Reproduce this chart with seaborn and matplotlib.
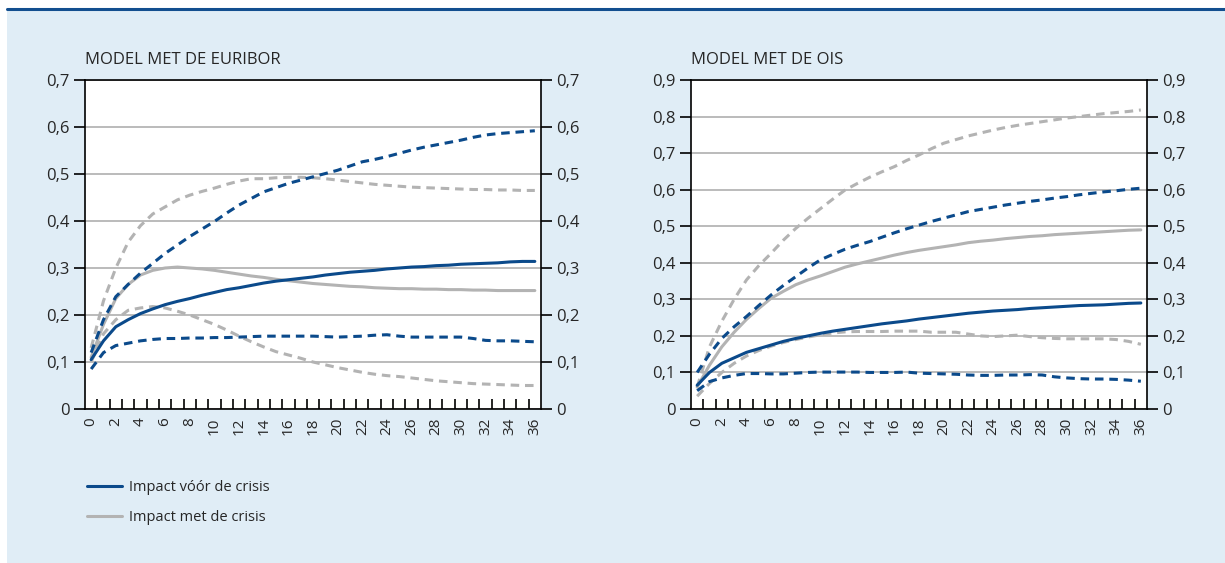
import numpy as np
import pandas as pd
import matplotlib
matplotlib.use("Agg")
import matplotlib.pyplot as plt
import seaborn as sns
from matplotlib.lines import Line2D
from matplotlib.ticker import FuncFormatter, MultipleLocator, FixedLocator

# months after the shock
months = list(range(37))

# Model met de Euribor
eur_before = [0.105, 0.145, 0.175, 0.190, 0.203, 0.213, 0.222, 0.229, 0.235, 0.242,
              0.248, 0.254, 0.258, 0.263, 0.268, 0.272, 0.275, 0.278, 0.281, 0.285,
              0.288, 0.291, 0.293, 0.295, 0.298, 0.300, 0.302, 0.303, 0.305, 0.306,
              0.308, 0.309, 0.310, 0.311, 0.313, 0.314, 0.314]
eur_before_hi = [0.120, 0.190, 0.239, 0.265, 0.289, 0.310, 0.331, 0.349, 0.367, 0.383,
                 0.399, 0.417, 0.434, 0.448, 0.462, 0.471, 0.480, 0.487, 0.494, 0.501,
                 0.508, 0.517, 0.526, 0.531, 0.537, 0.544, 0.551, 0.557, 0.562, 0.567,
                 0.572, 0.578, 0.583, 0.586, 0.588, 0.590, 0.592]
eur_before_lo = [0.085, 0.120, 0.135, 0.140, 0.145, 0.148, 0.150, 0.150, 0.151, 0.151,
                 0.152, 0.152, 0.153, 0.154, 0.155, 0.155, 0.155, 0.155, 0.155, 0.154,
                 0.153, 0.154, 0.155, 0.157, 0.158, 0.155, 0.153, 0.153, 0.153, 0.153,
                 0.153, 0.150, 0.146, 0.145, 0.145, 0.144, 0.143]
eur_crisis = [0.110, 0.180, 0.235, 0.265, 0.285, 0.295, 0.300, 0.302, 0.300, 0.298,
              0.295, 0.291, 0.287, 0.283, 0.280, 0.276, 0.273, 0.270, 0.267, 0.265,
              0.263, 0.261, 0.260, 0.258, 0.257, 0.256, 0.256, 0.255, 0.255, 0.254,
              0.254, 0.253, 0.253, 0.252, 0.252, 0.252, 0.252]
eur_crisis_hi = [0.130, 0.230, 0.300, 0.355, 0.390, 0.415, 0.430, 0.445, 0.455, 0.463,
                 0.470, 0.478, 0.485, 0.490, 0.490, 0.492, 0.493, 0.493, 0.492, 0.490,
                 0.487, 0.484, 0.481, 0.478, 0.476, 0.474, 0.472, 0.471, 0.470, 0.469,
                 0.468, 0.467, 0.467, 0.466, 0.466, 0.465, 0.465]
eur_crisis_lo = [0.100, 0.160, 0.190, 0.210, 0.215, 0.218, 0.215, 0.208, 0.200, 0.190,
                 0.180, 0.168, 0.155, 0.143, 0.132, 0.122, 0.115, 0.108, 0.100, 0.094,
                 0.088, 0.083, 0.078, 0.074, 0.071, 0.069, 0.066, 0.063, 0.060, 0.058,
                 0.056, 0.054, 0.053, 0.052, 0.051, 0.050, 0.050]

# Model met de OIS
ois_before = [0.065, 0.100, 0.125, 0.140, 0.155, 0.165, 0.175, 0.185, 0.193, 0.200,
              0.207, 0.213, 0.218, 0.223, 0.228, 0.233, 0.237, 0.241, 0.246, 0.250,
              0.254, 0.258, 0.262, 0.265, 0.268, 0.270, 0.272, 0.275, 0.277, 0.279,
              0.281, 0.283, 0.284, 0.285, 0.287, 0.289, 0.290]
ois_before_hi = [0.100, 0.150, 0.193, 0.225, 0.253, 0.283, 0.312, 0.338, 0.362, 0.386,
                 0.408, 0.423, 0.437, 0.448, 0.458, 0.470, 0.482, 0.493, 0.503, 0.513,
                 0.522, 0.531, 0.540, 0.546, 0.552, 0.558, 0.563, 0.568, 0.572, 0.577,
                 0.581, 0.586, 0.590, 0.594, 0.597, 0.601, 0.604]
ois_before_lo = [0.050, 0.075, 0.085, 0.092, 0.097, 0.097, 0.096, 0.096, 0.098, 0.100,
                 0.101, 0.101, 0.101, 0.101, 0.100, 0.100, 0.100, 0.101, 0.098, 0.097,
                 0.096, 0.095, 0.093, 0.092, 0.092, 0.093, 0.093, 0.094, 0.093, 0.088,
                 0.085, 0.083, 0.082, 0.082, 0.081, 0.079, 0.076]
ois_crisis = [0.060, 0.120, 0.170, 0.210, 0.245, 0.275, 0.303, 0.322, 0.340, 0.353,
              0.364, 0.376, 0.388, 0.397, 0.405, 0.413, 0.421, 0.428, 0.434, 0.439,
              0.444, 0.449, 0.455, 0.459, 0.462, 0.466, 0.469, 0.472, 0.474, 0.477,
              0.479, 0.481, 0.483, 0.485, 0.487, 0.489, 0.490]
ois_crisis_hi = [0.060, 0.170, 0.240, 0.300, 0.353, 0.392, 0.426, 0.462, 0.494, 0.522,
                 0.548, 0.574, 0.599, 0.617, 0.634, 0.649, 0.663, 0.680, 0.695, 0.712,
                 0.727, 0.737, 0.747, 0.755, 0.763, 0.770, 0.776, 0.781, 0.786, 0.791,
                 0.796, 0.800, 0.804, 0.808, 0.811, 0.814, 0.818]
ois_crisis_lo = [0.035, 0.070, 0.100, 0.125, 0.145, 0.160, 0.172, 0.182, 0.190, 0.197,
                 0.203, 0.208, 0.211, 0.212, 0.212, 0.212, 0.213, 0.213, 0.213, 0.210,
                 0.210, 0.210, 0.205, 0.200, 0.198, 0.200, 0.202, 0.198, 0.195, 0.193,
                 0.192, 0.192, 0.192, 0.192, 0.190, 0.185, 0.177]

titles = ["MODEL MET DE EURIBOR", "MODEL MET DE OIS"]
legend_labels = ["Impact vóór de crisis", "Impact met de crisis"]

BLUE = "#0b4a8b"
GRAY = "#b3b3b3"
BG = "#e0edf6"
DASH = (0, (2.8, 1.9))

sns.set_style("white")
plt.rcParams["font.family"] = ["Open Sans", "DejaVu Sans"]

fig = plt.figure(figsize=(12.25, 5.63), dpi=100)
fig.patch.set_facecolor("white")
# light blue panel with dark blue rule on top
fig.add_artist(plt.Rectangle((7 / 1225, 0), 1, 1 - 9 / 563, transform=fig.transFigure,
                             facecolor=BG, edgecolor="none", zorder=-10))
fig.add_artist(Line2D([7 / 1225, 1], [1 - 8.5 / 563] * 2, transform=fig.transFigure,
                      color="#124e8f", lw=2.2))

panels = [
    (eur_before, eur_before_hi, eur_before_lo, eur_crisis, eur_crisis_hi, eur_crisis_lo, 0.7),
    (ois_before, ois_before_hi, ois_before_lo, ois_crisis, ois_crisis_hi, ois_crisis_lo, 0.9),
]
lefts = [85 / 1225, 691 / 1225]
width = 456 / 1225
bottom = 1 - 409 / 563
height = 329 / 563

comma = FuncFormatter(lambda v, p: "0" if abs(v) < 1e-9 else f"{v:.1f}".replace(".", ","))
# category separators on the x axis
separators = [m + 0.5 for m in months[:-1]]

for i, (b, bh, bl, c, ch, cl, ymax) in enumerate(panels):
    ax = fig.add_axes([lefts[i], bottom, width, height])
    ax.set_facecolor("white")
    for vals, col, ls in [(cl, GRAY, DASH), (ch, GRAY, DASH), (c, GRAY, "-"),
                          (bl, BLUE, DASH), (bh, BLUE, DASH), (b, BLUE, "-")]:
        sns.lineplot(x=months, y=vals, ax=ax, color=col, lw=2.2, linestyle=ls, zorder=3)
    ax.set_xlim(-0.5, 36.5)
    ax.set_ylim(0, ymax)
    ax.yaxis.set_major_locator(MultipleLocator(0.1))
    ax.yaxis.set_major_formatter(comma)
    ax.grid(axis="y", color="#b5b5b5", lw=1.3, zorder=1)
    ax.xaxis.set_major_locator(FixedLocator(list(range(0, 37, 2))))
    ax.tick_params(axis="x", which="major", bottom=True, length=0, pad=6, rotation=90,
                   labelsize=11)
    ax.tick_params(axis="y", which="major", direction="out", length=8, width=1.2, color="black",
                   left=True, right=True, labelleft=True, labelright=True, labelsize=12, pad=3)
    for s in ax.spines.values():
        s.set_visible(True)
        s.set_color("black")
        s.set_linewidth(1.2)
    ax.set_xlabel("")
    ax.set_ylabel("")
    fig.text(lefts[i], 1 - 60 / 563, titles[i], fontsize=12, va="center", ha="left")

    # transparent overlay axes on top, only for the inward category separators
    ov = fig.add_axes([lefts[i], bottom, width, height], zorder=5)
    ov.patch.set_alpha(0)
    ov.set_xlim(-0.5, 36.5)
    ov.set_ylim(0, 1)
    for s in ov.spines.values():
        s.set_visible(False)
    ov.set_yticks([])
    ov.xaxis.set_major_locator(FixedLocator(separators))
    ov.tick_params(axis="x", which="major", bottom=True, top=False, direction="in", length=7.5,
                   width=1.2, color="black", labelbottom=False)
    ov.xaxis.set_minor_locator(FixedLocator([]))

handles = [Line2D([], [], color=BLUE, lw=2.2), Line2D([], [], color=GRAY, lw=2.2)]
fig.legend(handles, legend_labels, loc="upper left", bbox_to_anchor=(74 / 1225, 1 - 467 / 563),
           frameon=False, fontsize=10.5, handlelength=2.4, handletextpad=0.5, labelspacing=1.0)

fig.savefig("out.png", dpi=100, facecolor=fig.get_facecolor())
